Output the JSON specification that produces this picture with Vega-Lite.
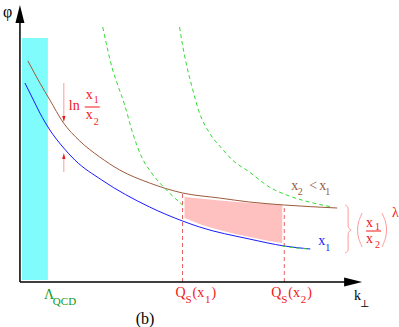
{
  "$schema": "https://vega.github.io/schema/vega-lite/v6.json",
  "width": 399,
  "height": 327,
  "padding": 0,
  "autosize": {"type": "fit", "contains": "padding"},
  "config": {"view": {"stroke": null}, "text": {"font": "Liberation Serif, DejaVu Serif, serif"}},
  "datasets": {
    "cyan": [{"k0": 2, "k1": 28, "p0": 2, "p1": 244}],
    "axisY": [{"k": 0, "p0": 0, "p1": 266}],
    "axisX": [{"phi": 0, "k0": 0, "k1": 330}],
    "arrowUpBig": [{"k": 0, "phi": 268}],
    "arrowRightBig": [{"k": 334, "phi": 0}],
    "gap": [
      {"k": 165, "top": 85, "bot": 64},
      {"k": 180, "top": 83.5, "bot": 58},
      {"k": 200, "top": 81.5, "bot": 52},
      {"k": 230, "top": 79, "bot": 45},
      {"k": 250, "top": 78, "bot": 41},
      {"k": 263, "top": 77, "bot": 39}
    ],
    "qs": [{"k": 163, "p0": 0, "p1": 89}, {"k": 265, "p0": 0, "p1": 77}],
    "brown": [
      {"k": 8, "phi": 221}, {"k": 20, "phi": 199}, {"k": 30, "phi": 182}, {"k": 43, "phi": 160},
      {"k": 60, "phi": 141}, {"k": 80, "phi": 125}, {"k": 100, "phi": 112}, {"k": 130, "phi": 99},
      {"k": 163, "phi": 89}, {"k": 200, "phi": 84}, {"k": 230, "phi": 80}, {"k": 265, "phi": 77},
      {"k": 318, "phi": 74}
    ],
    "blue": [
      {"k": 5, "phi": 199}, {"k": 15, "phi": 179}, {"k": 20, "phi": 169}, {"k": 30, "phi": 152},
      {"k": 43, "phi": 135}, {"k": 55, "phi": 122}, {"k": 82, "phi": 102}, {"k": 130, "phi": 75},
      {"k": 163, "phi": 61}, {"k": 180, "phi": 55}, {"k": 230, "phi": 43}, {"k": 265, "phi": 36},
      {"k": 291, "phi": 33}
    ],
    "sat": [
      {"s": "a", "k": 83, "phi": 255}, {"s": "a", "k": 88, "phi": 232}, {"s": "a", "k": 93, "phi": 212},
      {"s": "a", "k": 98, "phi": 197}, {"s": "a", "k": 105, "phi": 177}, {"s": "a", "k": 113, "phi": 149},
      {"s": "a", "k": 122, "phi": 125}, {"s": "a", "k": 132, "phi": 109}, {"s": "a", "k": 147, "phi": 92},
      {"s": "a", "k": 163, "phi": 77},
      {"s": "b", "k": 160, "phi": 255}, {"s": "b", "k": 163, "phi": 237}, {"s": "b", "k": 167, "phi": 217},
      {"s": "b", "k": 172, "phi": 197}, {"s": "b", "k": 180, "phi": 169}, {"s": "b", "k": 190, "phi": 149},
      {"s": "b", "k": 202, "phi": 134}, {"s": "b", "k": 213, "phi": 122}, {"s": "b", "k": 230, "phi": 110},
      {"s": "b", "k": 250, "phi": 95}, {"s": "b", "k": 270, "phi": 86}, {"s": "b", "k": 290, "phi": 80},
      {"s": "b", "k": 313, "phi": 75},
      {"s": "c", "k": 263, "phi": 36}, {"s": "c", "k": 277, "phi": 34}, {"s": "c", "k": 291, "phi": 33}
    ],
    "lnArrows": [{"k": 44, "p0": 199, "p1": 165}, {"k": 44, "p0": 110, "p1": 124}],
    "headDown": [{"k": 44, "phi": 163}],
    "headUp": [{"k": 44, "phi": 126}],
    "bars": [{"k0": 65, "k1": 80, "phi": 175}, {"k0": 347, "k1": 362, "phi": 51}],
    "brace": [
      {"i": 0, "k": 326, "phi": 77}, {"i": 1, "k": 328.3, "phi": 75.5}, {"i": 2, "k": 329, "phi": 71},
      {"i": 3, "k": 329, "phi": 57}, {"i": 4, "k": 330, "phi": 53.5}, {"i": 5, "k": 332, "phi": 52},
      {"i": 6, "k": 330, "phi": 50.5}, {"i": 7, "k": 329, "phi": 47}, {"i": 8, "k": 329, "phi": 33},
      {"i": 9, "k": 328.3, "phi": 30.5}, {"i": 10, "k": 326, "phi": 29}
    ],
    "parens": [
      {"side": "L", "i": 0, "k": 343, "phi": 69}, {"side": "L", "i": 1, "k": 339.5, "phi": 60},
      {"side": "L", "i": 2, "k": 338.5, "phi": 52}, {"side": "L", "i": 3, "k": 339.5, "phi": 44},
      {"side": "L", "i": 4, "k": 343, "phi": 35},
      {"side": "R", "i": 0, "k": 363, "phi": 69}, {"side": "R", "i": 1, "k": 366.5, "phi": 60},
      {"side": "R", "i": 2, "k": 367.5, "phi": 52}, {"side": "R", "i": 3, "k": 366.5, "phi": 44},
      {"side": "R", "i": 4, "k": 363, "phi": 35}
    ],
    "mainText": [
      {"k": 49, "phi": 172, "t": "ln", "kind": "gap"},
      {"k": 66, "phi": 183, "t": "x", "kind": "gap"},
      {"k": 66, "phi": 163, "t": "x", "kind": "gap"},
      {"k": 272, "phi": 92, "t": "x", "kind": "x2"},
      {"k": 290, "phi": 92, "t": "<", "kind": "x2"},
      {"k": 300, "phi": 92, "t": "x", "kind": "x2"},
      {"k": 299, "phi": 37, "t": "x", "kind": "x1"},
      {"k": 347, "phi": 55, "t": "x", "kind": "gap"},
      {"k": 347, "phi": 39, "t": "x", "kind": "gap"},
      {"k": 335, "phi": -18, "t": "k", "kind": "axis"},
      {"k": 373, "phi": 65, "t": "λ", "kind": "gap"}
    ],
    "labelText": [
      {"k": 24, "phi": -17, "t": "Λ", "kind": "qcd"},
      {"k": 156, "phi": -15, "t": "Q", "kind": "gap"},
      {"k": 173, "phi": -15, "t": "(x", "kind": "gap"},
      {"k": 192, "phi": -15, "t": ")", "kind": "gap"},
      {"k": 252, "phi": -15, "t": "Q", "kind": "gap"},
      {"k": 269, "phi": -15, "t": "(x", "kind": "gap"},
      {"k": 288, "phi": -15, "t": ")", "kind": "gap"}
    ],
    "labelSub": [
      {"k": 33, "phi": -23, "t": "QCD", "kind": "qcd"},
      {"k": 166, "phi": -21, "t": "S", "kind": "gap"},
      {"k": 185.5, "phi": -21, "t": "1", "kind": "gap"},
      {"k": 262, "phi": -21, "t": "S", "kind": "gap"},
      {"k": 281.5, "phi": -21, "t": "2", "kind": "gap"}
    ],
    "subText": [
      {"k": 74, "phi": 179, "t": "1", "kind": "gap"},
      {"k": 74, "phi": 157, "t": "2", "kind": "gap"},
      {"k": 278.5, "phi": 87, "t": "2", "kind": "x2"},
      {"k": 306, "phi": 87, "t": "1", "kind": "x2"},
      {"k": 306, "phi": 31, "t": "1", "kind": "x1"},
      {"k": 356, "phi": 52, "t": "1", "kind": "gap"},
      {"k": 356, "phi": 34, "t": "2", "kind": "gap"},
      {"k": 341, "phi": -25, "t": "⊥", "kind": "axis"}
    ],
    "bigText": [
      {"k": -17, "phi": 265, "t": "φ", "kind": "axis"},
      {"k": 116, "phi": -42, "t": "(b)", "kind": "axis"}
    ]
  },
  "encoding": {
    "x": {"type": "quantitative", "scale": {"domain": [-20, 379], "nice": false, "zero": false}, "axis": null},
    "y": {"type": "quantitative", "scale": {"domain": [-45, 282], "nice": false, "zero": false}, "axis": null}
  },
  "layer": [
    {
      "data": {"name": "cyan"},
      "mark": {"type": "rect", "color": "#80fcfc"},
      "encoding": {"x": {"field": "k0", "type": "quantitative"}, "x2": {"field": "k1"}, "y": {"field": "p0", "type": "quantitative"}, "y2": {"field": "p1"}}
    },
    {
      "data": {"name": "gap"},
      "mark": {"type": "area", "color": "#ffc0c0", "interpolate": "monotone"},
      "encoding": {"x": {"field": "k", "type": "quantitative"}, "y": {"field": "top", "type": "quantitative"}, "y2": {"field": "bot"}}
    },
    {
      "data": {"name": "qs"},
      "mark": {"type": "rule", "color": "#e86060", "strokeDash": [4, 3], "strokeWidth": 1},
      "encoding": {"x": {"field": "k", "type": "quantitative"}, "y": {"field": "p0", "type": "quantitative"}, "y2": {"field": "p1"}}
    },
    {
      "data": {"name": "brown"},
      "mark": {"type": "line", "color": "#9c5a3c", "strokeWidth": 1, "interpolate": "monotone"},
      "encoding": {"x": {"field": "k", "type": "quantitative"}, "y": {"field": "phi", "type": "quantitative"}}
    },
    {
      "data": {"name": "blue"},
      "mark": {"type": "line", "color": "#1a1aff", "strokeWidth": 1, "interpolate": "monotone"},
      "encoding": {"x": {"field": "k", "type": "quantitative"}, "y": {"field": "phi", "type": "quantitative"}}
    },
    {
      "data": {"name": "sat"},
      "mark": {"type": "line", "color": "#33dd33", "strokeWidth": 1, "strokeDash": [4, 3], "interpolate": "monotone"},
      "encoding": {"x": {"field": "k", "type": "quantitative"}, "y": {"field": "phi", "type": "quantitative"}, "detail": {"field": "s"}}
    },
    {
      "data": {"name": "axisY"},
      "mark": {"type": "rule", "color": "black", "strokeWidth": 1.5},
      "encoding": {"x": {"field": "k", "type": "quantitative"}, "y": {"field": "p0", "type": "quantitative"}, "y2": {"field": "p1"}}
    },
    {
      "data": {"name": "axisX"},
      "mark": {"type": "rule", "color": "black", "strokeWidth": 1.5},
      "encoding": {"x": {"field": "k0", "type": "quantitative"}, "x2": {"field": "k1"}, "y": {"field": "phi", "type": "quantitative"}}
    },
    {
      "data": {"name": "arrowUpBig"},
      "mark": {"type": "point", "shape": "M0,-1L0.5,1L-0.5,1Z", "filled": true, "color": "black", "opacity": 1, "size": 324},
      "encoding": {"x": {"field": "k", "type": "quantitative"}, "y": {"field": "phi", "type": "quantitative"}}
    },
    {
      "data": {"name": "arrowRightBig"},
      "mark": {"type": "point", "shape": "M1,0L-1,-0.5L-1,0.5Z", "filled": true, "color": "black", "opacity": 1, "size": 324},
      "encoding": {"x": {"field": "k", "type": "quantitative"}, "y": {"field": "phi", "type": "quantitative"}}
    },
    {
      "data": {"name": "lnArrows"},
      "mark": {"type": "rule", "color": "#ff9a9a", "strokeWidth": 1},
      "encoding": {"x": {"field": "k", "type": "quantitative"}, "y": {"field": "p0", "type": "quantitative"}, "y2": {"field": "p1"}}
    },
    {
      "data": {"name": "headDown"},
      "mark": {"type": "point", "shape": "M0,1L0.55,-1L-0.55,-1Z", "filled": true, "color": "#f01818", "opacity": 1, "size": 36},
      "encoding": {"x": {"field": "k", "type": "quantitative"}, "y": {"field": "phi", "type": "quantitative"}}
    },
    {
      "data": {"name": "headUp"},
      "mark": {"type": "point", "shape": "M0,-1L0.55,1L-0.55,1Z", "filled": true, "color": "#f01818", "opacity": 1, "size": 36},
      "encoding": {"x": {"field": "k", "type": "quantitative"}, "y": {"field": "phi", "type": "quantitative"}}
    },
    {
      "data": {"name": "bars"},
      "mark": {"type": "rule", "color": "#f01818", "strokeWidth": 1},
      "encoding": {"x": {"field": "k0", "type": "quantitative"}, "x2": {"field": "k1"}, "y": {"field": "phi", "type": "quantitative"}}
    },
    {
      "data": {"name": "brace"},
      "mark": {"type": "line", "color": "#ff9a9a", "strokeWidth": 1, "interpolate": "cardinal"},
      "encoding": {"x": {"field": "k", "type": "quantitative"}, "y": {"field": "phi", "type": "quantitative"}, "order": {"field": "i"}}
    },
    {
      "data": {"name": "parens"},
      "mark": {"type": "line", "color": "#ff9a9a", "strokeWidth": 1, "interpolate": "cardinal"},
      "encoding": {"x": {"field": "k", "type": "quantitative"}, "y": {"field": "phi", "type": "quantitative"}, "order": {"field": "i"}, "detail": {"field": "side"}}
    },
    {
      "data": {"name": "mainText"},
      "mark": {"type": "text", "fontSize": 14, "align": "left", "baseline": "alphabetic", "font": "Liberation Serif, DejaVu Serif, serif"},
      "encoding": {
        "x": {"field": "k", "type": "quantitative"}, "y": {"field": "phi", "type": "quantitative"}, "text": {"field": "t"},
        "color": {"field": "kind", "type": "nominal", "legend": null, "scale": {"domain": ["axis", "gap", "qcd", "x1", "x2"], "range": ["#000000", "#f01818", "#119911", "#1a1aff", "#9c5a3c"]}}
      }
    },
    {
      "data": {"name": "labelText"},
      "mark": {"type": "text", "fontSize": 14, "align": "left", "baseline": "alphabetic", "font": "Liberation Serif, DejaVu Serif, serif"},
      "encoding": {
        "x": {"field": "k", "type": "quantitative"}, "y": {"field": "phi", "type": "quantitative"}, "text": {"field": "t"},
        "color": {"field": "kind", "type": "nominal", "legend": null, "scale": {"domain": ["axis", "gap", "qcd", "x1", "x2"], "range": ["#000000", "#f01818", "#119911", "#1a1aff", "#9c5a3c"]}}
      }
    },
    {
      "data": {"name": "labelSub"},
      "mark": {"type": "text", "fontSize": 11, "align": "left", "baseline": "alphabetic", "font": "Liberation Serif, DejaVu Serif, serif"},
      "encoding": {
        "x": {"field": "k", "type": "quantitative"}, "y": {"field": "phi", "type": "quantitative"}, "text": {"field": "t"},
        "color": {"field": "kind", "type": "nominal", "legend": null, "scale": {"domain": ["axis", "gap", "qcd", "x1", "x2"], "range": ["#000000", "#f01818", "#119911", "#1a1aff", "#9c5a3c"]}}
      }
    },
    {
      "data": {"name": "subText"},
      "mark": {"type": "text", "fontSize": 10, "align": "left", "baseline": "alphabetic", "font": "Liberation Serif, DejaVu Serif, serif"},
      "encoding": {
        "x": {"field": "k", "type": "quantitative"}, "y": {"field": "phi", "type": "quantitative"}, "text": {"field": "t"},
        "color": {"field": "kind", "type": "nominal", "legend": null, "scale": {"domain": ["axis", "gap", "qcd", "x1", "x2"], "range": ["#000000", "#f01818", "#119911", "#1a1aff", "#9c5a3c"]}}
      }
    },
    {
      "data": {"name": "bigText"},
      "mark": {"type": "text", "fontSize": 16, "align": "left", "baseline": "alphabetic", "font": "Liberation Serif, DejaVu Serif, serif"},
      "encoding": {
        "x": {"field": "k", "type": "quantitative"}, "y": {"field": "phi", "type": "quantitative"}, "text": {"field": "t"},
        "color": {"field": "kind", "type": "nominal", "legend": null, "scale": {"domain": ["axis", "gap", "qcd", "x1", "x2"], "range": ["#000000", "#f01818", "#119911", "#1a1aff", "#9c5a3c"]}}
      }
    }
  ]
}
